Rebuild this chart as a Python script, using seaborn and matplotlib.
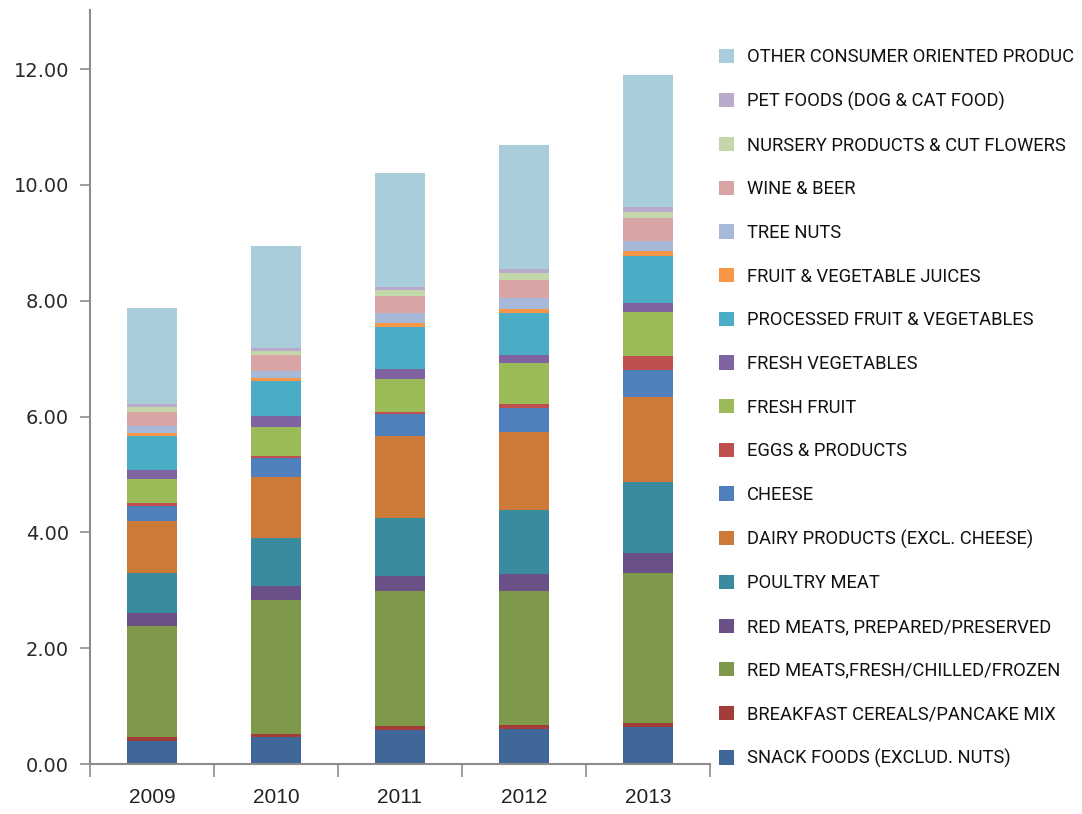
import matplotlib
matplotlib.use("Agg")
import matplotlib.pyplot as plt
from matplotlib.patches import Patch
from matplotlib.ticker import FixedLocator
import seaborn as sns
import pandas as pd

years = [2009, 2010, 2011, 2012, 2013]

categories = [
    "SNACK FOODS (EXCLUD. NUTS)",
    "BREAKFAST CEREALS/PANCAKE MIX",
    "RED MEATS,FRESH/CHILLED/FROZEN",
    "RED MEATS, PREPARED/PRESERVED",
    "POULTRY MEAT",
    "DAIRY PRODUCTS (EXCL. CHEESE)",
    "CHEESE",
    "EGGS & PRODUCTS",
    "FRESH FRUIT",
    "FRESH VEGETABLES",
    "PROCESSED FRUIT & VEGETABLES",
    "FRUIT & VEGETABLE JUICES",
    "TREE NUTS",
    "WINE & BEER",
    "NURSERY PRODUCTS & CUT FLOWERS",
    "PET FOODS (DOG & CAT FOOD)",
    "OTHER CONSUMER ORIENTED PRODUC",
]

snack      = [0.40, 0.46, 0.59, 0.61, 0.64]
breakfast  = [0.06, 0.06, 0.06, 0.07, 0.06]
red_fresh  = [1.93, 2.31, 2.34, 2.30, 2.60]
red_prep   = [0.21, 0.24, 0.26, 0.30, 0.35]
poultry    = [0.69, 0.84, 1.00, 1.11, 1.22]
dairy      = [0.91, 1.04, 1.42, 1.34, 1.46]
cheese     = [0.25, 0.34, 0.37, 0.41, 0.47]
eggs       = [0.05, 0.03, 0.04, 0.08, 0.24]
fresh_fru  = [0.42, 0.50, 0.57, 0.70, 0.76]
fresh_veg  = [0.16, 0.19, 0.17, 0.15, 0.16]
processed  = [0.58, 0.61, 0.72, 0.71, 0.82]
juices     = [0.06, 0.05, 0.08, 0.07, 0.08]
tree_nuts  = [0.11, 0.12, 0.16, 0.19, 0.17]
wine_beer  = [0.25, 0.28, 0.30, 0.32, 0.39]
nursery    = [0.09, 0.07, 0.11, 0.11, 0.12]
pet_foods  = [0.05, 0.04, 0.04, 0.07, 0.08]
other      = [1.65, 1.77, 1.98, 2.15, 2.28]

series = [snack, breakfast, red_fresh, red_prep, poultry, dairy, cheese, eggs,
          fresh_fru, fresh_veg, processed, juices, tree_nuts, wine_beer,
          nursery, pet_foods, other]

colors = ["#3F6899", "#A23D3A", "#7E994A", "#6A5087", "#3A8AA0", "#CC7A38",
          "#4F80BC", "#C0504D", "#9BBB59", "#8064A2", "#4BACC6", "#F79646",
          "#A7B9D9", "#D9A5A4", "#C4D7AA", "#B9AACB", "#A9CDDB"]

y_ticks = [0, 2, 4, 6, 8, 10, 12]

rows = []
for cat, vals in zip(categories, series):
    for yr, v in zip(years, vals):
        rows.append({"year": yr, "category": cat, "value": v})
df = pd.DataFrame(rows)

sns.set_theme(style="white")
plt.rcParams["font.family"] = ["DejaVu Sans"]

fig = plt.figure(figsize=(10.82, 8.14), dpi=100)
ax = fig.add_axes([90 / 1082, 1 - 764 / 814, 620 / 1082, 754 / 814])

palette = dict(zip(categories, colors))
sns.histplot(data=df, x="year", weights="value", hue="category",
             hue_order=categories[::-1], palette=palette, multiple="stack",
             discrete=True, shrink=0.4, alpha=1, linewidth=0, legend=False, ax=ax)

ax.set_xlim(2008.5, 2013.5)
ax.set_ylim(0, 13.02)
ax.set_xlabel("")
ax.set_ylabel("")

ax.set_xticks(years)
ax.set_xticklabels([str(y) for y in years], family="Liberation Sans", fontsize=15, color="#222222")
ax.xaxis.set_minor_locator(FixedLocator([2008.5 + i for i in range(6)]))
ax.tick_params(axis="x", which="major", length=0, pad=17)
ax.tick_params(axis="x", which="minor", length=9, width=1.2, color="#8C8C8C", direction="out", bottom=True)

ax.set_yticks(y_ticks)
ax.set_yticklabels([f"{v:.2f}" for v in y_ticks], fontsize=14, color="#2A2A2A")
ax.tick_params(axis="y", which="major", length=7, width=1.2, color="#8C8C8C", direction="out", left=True, pad=8)

for s in ["top", "right"]:
    ax.spines[s].set_visible(False)
for s in ["left", "bottom"]:
    ax.spines[s].set_color("#8C8C8C")
    ax.spines[s].set_linewidth(1.5)
ax.grid(False)

handles = [Patch(facecolor=c, edgecolor="none") for c in colors][::-1]
labels = categories[::-1]
fig.legend(handles, labels, loc="upper left", bbox_to_anchor=(719 / 1082, 1 - 48 / 814),
           frameon=False, prop={"family": ["Roboto", "DejaVu Sans"], "size": 13.2},
           handlelength=0.82, handleheight=0.82, handletextpad=0.72,
           labelspacing=1.40, borderpad=0, borderaxespad=0, labelcolor="#111111")

fig.savefig("out.png", dpi=100)
